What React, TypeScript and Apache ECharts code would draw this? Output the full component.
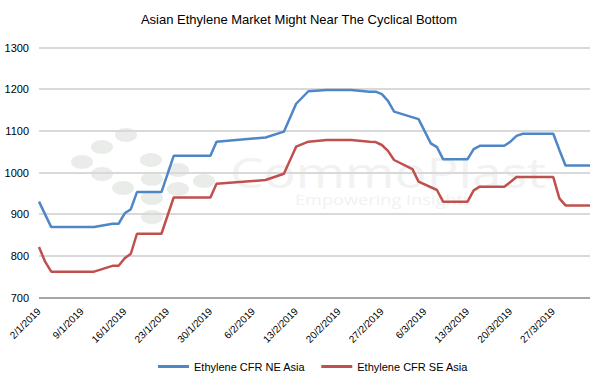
import React, { useEffect, useRef } from "react";
import * as echarts from "echarts";

const title = "Asian Ethylene Market Might Near The Cyclical Bottom";
const seriesNames = ["Ethylene CFR NE Asia", "Ethylene CFR SE Asia"];
const startDate = "2/1/2019";
const endDate = "2/4/2019";
const neDates = [
  "2/1/2019", "4/1/2019", "11/1/2019", "14/1/2019", "15/1/2019", "16/1/2019", "17/1/2019", "18/1/2019",
  "22/1/2019", "24/1/2019", "30/1/2019", "31/1/2019", "8/2/2019", "11/2/2019", "13/2/2019", "15/2/2019",
  "18/2/2019", "22/2/2019", "25/2/2019", "26/2/2019", "27/2/2019", "28/2/2019", "1/3/2019", "5/3/2019",
  "7/3/2019", "8/3/2019", "9/3/2019", "13/3/2019", "14/3/2019", "15/3/2019", "19/3/2019", "20/3/2019",
  "21/3/2019", "22/3/2019", "27/3/2019", "28/3/2019", "29/3/2019", "2/4/2019",
];
const neAsia = [
  930, 869, 869, 877, 877, 902, 912, 953,
  953, 1040, 1040, 1074, 1084, 1098, 1165, 1195,
  1198, 1198, 1194, 1194, 1188, 1172, 1146, 1128,
  1070, 1061, 1032, 1032, 1056, 1064, 1064, 1074,
  1088, 1093, 1093, 1054, 1017, 1017,
];
const seDates = [
  "2/1/2019", "3/1/2019", "4/1/2019", "11/1/2019", "14/1/2019", "15/1/2019", "16/1/2019", "17/1/2019",
  "18/1/2019", "22/1/2019", "24/1/2019", "30/1/2019", "31/1/2019", "8/2/2019", "11/2/2019", "13/2/2019",
  "15/2/2019", "18/2/2019", "22/2/2019", "25/2/2019", "26/2/2019", "27/2/2019", "28/2/2019", "1/3/2019",
  "4/3/2019", "5/3/2019", "8/3/2019", "9/3/2019", "13/3/2019", "14/3/2019", "15/3/2019", "19/3/2019",
  "20/3/2019", "21/3/2019", "27/3/2019", "28/3/2019", "29/3/2019", "2/4/2019",
];
const seAsia = [
  821, 786, 762, 762, 776, 776, 794, 805,
  853, 853, 940, 940, 973, 982, 997, 1062,
  1074, 1078, 1078, 1074, 1073, 1066, 1052, 1030,
  1008, 978, 958, 930, 930, 957, 966, 966,
  977, 989, 989, 938, 921, 921,
];
const yMin = 700;
const yMax = 1300;
const yStep = 100;
const watermark = "CommoPlast";
const watermarkTagline = "Empowering Insights";

const DAY = 86400000;
const toUTC = (s: string) => {
  const [d, m, y] = s.split("/").map(Number);
  return Date.UTC(y, m - 1, d);
};
const t0 = toUTC(startDate);
const dayIndex = (s: string) => Math.round((toUTC(s) - t0) / DAY);
const dayLabel = (v: number) => {
  const dt = new Date(t0 + v * DAY);
  return `${dt.getUTCDate()}/${dt.getUTCMonth() + 1}/${dt.getUTCFullYear()}`;
};

const dots = [
  [82, 162], [102, 147], [126, 135], [102, 174], [123, 188], [151, 160],
  [152, 179], [178, 170], [178, 189], [204, 181], [152, 198], [152, 217],
];

export default function App() {
  const ref = useRef<HTMLDivElement>(null);
  useEffect(() => {
    if (!ref.current) return;
    const chart = echarts.init(ref.current, undefined, { renderer: "svg" });
    const font = "'Liberation Sans', Arial, sans-serif";
    chart.setOption({
      animation: false,
      backgroundColor: "#ffffff",
      textStyle: { fontFamily: font },
      title: {
        text: title,
        left: "center",
        top: 8,
        textStyle: { fontSize: 13, fontWeight: "normal", color: "#000", fontFamily: font },
      },
      graphic: [
        ...dots.map(([x, y]) => ({
          type: "ellipse",
          z: -10,
          silent: true,
          shape: { cx: x, cy: y, rx: 11, ry: 7 },
          style: { fill: "#eaecea" },
        })),
        {
          type: "text",
          z: -10,
          silent: true,
          x: 230,
          y: 172,
          scaleX: 1.27,
          style: {
            text: watermark,
            font: "42px 'Open Sans', sans-serif",
            fill: "#f1f2f1",
            verticalAlign: "middle",
          },
        },
        {
          type: "text",
          z: -10,
          silent: true,
          x: 295,
          y: 200,
          scaleX: 1.3,
          style: {
            text: watermarkTagline,
            font: "14px 'Open Sans', sans-serif",
            fill: "#f1f2f1",
            verticalAlign: "middle",
          },
        },
      ],
      legend: {
        bottom: 11,
        left: 153,
        icon: "rect",
        itemWidth: 31,
        itemHeight: 3,
        itemGap: 16,
        textStyle: { fontSize: 11, color: "#000", fontFamily: font },
        data: seriesNames,
      },
      grid: { left: 39, right: 8, top: 47.5, bottom: 90.5, containLabel: false },
      xAxis: {
        type: "value",
        min: 0,
        max: dayIndex(endDate),
        interval: 7,
        splitLine: { show: false },
        axisTick: { show: false },
        axisLine: { show: false },
        axisLabel: {
          rotate: 45,
          fontSize: 10,
          color: "#000",
          fontFamily: font,
          margin: 12,
          showMaxLabel: false,
          formatter: (v: number) => dayLabel(v),
        },
      },
      yAxis: {
        type: "value",
        min: yMin,
        max: yMax,
        interval: yStep,
        axisLine: { show: false },
        axisTick: { show: false },
        axisLabel: {
          fontSize: 11,
          color: "#000",
          fontFamily: font,
          margin: 10,
          formatter: (v: number) => String(v),
        },
        splitLine: {
          lineStyle: { color: "#d9d9d9", width: 2 },
        },
      },
      series: [
        {
          name: seriesNames[0],
          type: "line",
          symbol: "none",
          z: 3,
          data: neDates.map((d, i) => [dayIndex(d), neAsia[i]]),
          lineStyle: { color: "#4f86c6", width: 2.5 },
          itemStyle: { color: "#4f86c6" },
        },
        {
          name: seriesNames[1],
          type: "line",
          symbol: "none",
          z: 3,
          data: seDates.map((d, i) => [dayIndex(d), seAsia[i]]),
          lineStyle: { color: "#c0504d", width: 2.5 },
          itemStyle: { color: "#c0504d" },
          markLine: {
            silent: true,
            symbol: "none",
            label: { show: false },
            lineStyle: { color: "#a6a6a6", width: 2, type: "solid" },
            data: [{ yAxis: yMin }],
          },
        },
      ],
    });
    return () => chart.dispose();
  }, []);
  return <div ref={ref} style={{ width: 598, height: 388, position: "absolute", left: 0, top: 0 }} />;
}
